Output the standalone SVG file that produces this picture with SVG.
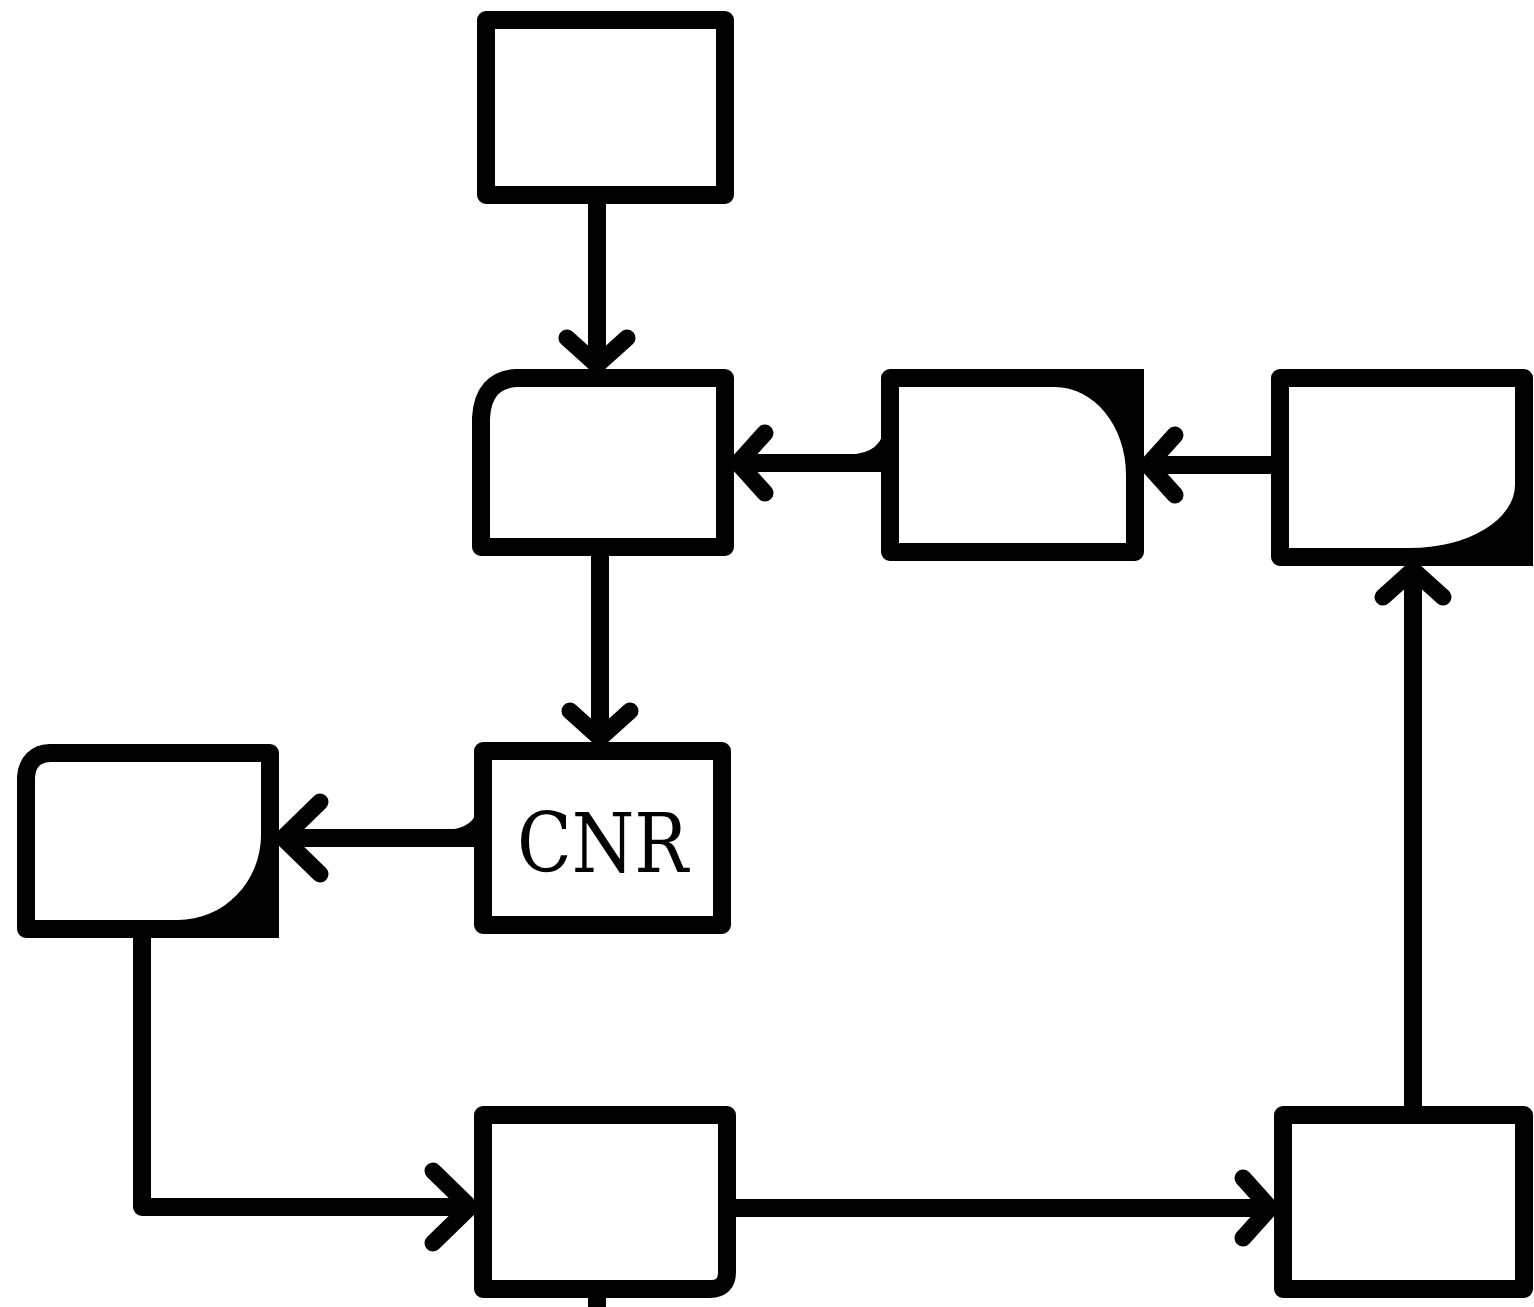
<svg xmlns="http://www.w3.org/2000/svg" width="1534" height="1307" viewBox="0 0 1534 1307">
<style>
.box{fill:#fff;stroke:#000;stroke-width:18;stroke-linejoin:round}
.fillc{fill:#000;stroke:none}
.conn{fill:none;stroke:#000;stroke-width:18;stroke-linejoin:round}
.lbl{font-family:"DejaVu Serif Condensed","DejaVu Serif","Liberation Serif",serif;font-size:82px;fill:#000}
</style>
<defs>
<marker id="ah" markerUnits="userSpaceOnUse" markerWidth="80" markerHeight="80" viewBox="-50 -40 60 80" refX="0" refY="0" orient="auto">
<path d="M -30 -30 L -3 0 L -30 30" fill="none" stroke="#000" stroke-width="17" stroke-linecap="round" stroke-linejoin="round"/>
</marker>
<marker id="ahL" markerUnits="userSpaceOnUse" markerWidth="100" markerHeight="100" viewBox="-60 -50 70 100" refX="0" refY="0" orient="auto">
<path d="M -40 -36 L -3 0 L -40 36" fill="none" stroke="#000" stroke-width="17" stroke-linecap="round" stroke-linejoin="round"/>
</marker>
</defs>
<rect width="1534" height="1307" fill="#fff"/>
<g id="connectors">
<path class="conn" d="M 597 203 L 597 368" marker-end="url(#ah)"/>
<path class="conn" d="M 600 555 L 600 741" marker-end="url(#ah)"/>
<path class="conn" d="M 882 463 L 735 463" marker-end="url(#ah)"/>
<path class="fillc" d="M 884 425 Q 884 453 848 455 L 884 455 Z"/>
<path class="conn" d="M 1272 465 L 1145 465" marker-end="url(#ah)"/>
<path class="conn" d="M 475 838 L 280 838" marker-end="url(#ahL)"/>
<path class="fillc" d="M 478 805 Q 476 829 445 830 L 478 830 Z"/>
<path class="conn" d="M 142 937 L 142 1207 L 473 1207" marker-end="url(#ahL)"/>
<path class="conn" d="M 735 1208 L 1273 1208" marker-end="url(#ah)"/>
<path class="conn" d="M 1413 1107 L 1413 567" marker-end="url(#ah)"/>
<path class="conn" d="M 597 1297 L 597 1310"/>
</g>
<g id="node1">
<rect class="box" x="486" y="20" width="239" height="175"/>
</g>
<g id="node2">
<path class="box" d="M 516 378 L 725 378 L 725 547 L 481 547 L 481 418 Q 483 380 516 378 Z"/>
</g>
<g id="node3">
<rect class="box" x="890" y="378" width="245" height="174"/>
<path class="fillc" d="M 1055 369 L 1144 369 L 1144 475 L 1126 475 A 71 88 0 0 0 1055 387 Z"/>
</g>
<g id="node4">
<rect class="box" x="1280" y="378" width="244" height="179"/>
<path class="fillc" d="M 1533 485 L 1533 566 L 1410 566 L 1410 548 A 105 63 0 0 0 1515 485 Z"/>
</g>
<g id="node5">
<rect class="box" x="483" y="751" width="239" height="174"/>
<text class="lbl" x="517" y="872" textLength="171" lengthAdjust="spacingAndGlyphs">CNR</text>
</g>
<g id="node6">
<path class="box" d="M 50 753 L 270 753 L 270 929 L 26 929 L 26 777 Q 28 754 50 753 Z"/>
<path class="fillc" d="M 279 835 L 279 938 L 178 938 L 178 920 A 83 85 0 0 0 261 835 Z"/>
</g>
<g id="node7">
<path class="box" d="M 483 1115 L 727 1115 L 727 1272 Q 727 1289 710 1289 L 483 1289 Z"/>
</g>
<g id="node8">
<rect class="box" x="1283" y="1115" width="241" height="174"/>
</g>
</svg>
